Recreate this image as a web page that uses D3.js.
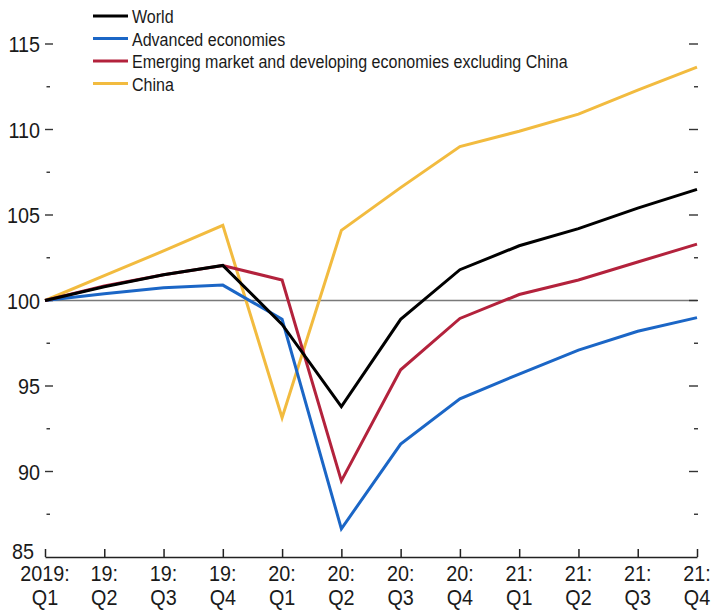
<!DOCTYPE html>
<html>
<head>
<meta charset="utf-8">
<script src="https://cdn.jsdelivr.net/npm/d3@7"></script>
<style>
  body { margin: 0; background: #fff; }
  text { font-family: "Liberation Sans", Arial, sans-serif; fill: #1a1a1a; }
</style>
</head>
<body>
<div id="chart"></div>
<script>
// quarters, 2019Q1 = 100
const quarters = ["2019Q1","2019Q2","2019Q3","2019Q4","2020Q1","2020Q2","2020Q3","2020Q4","2021Q1","2021Q2","2021Q3","2021Q4"];
const tickTop = ["2019:","19:","19:","19:","20:","20:","20:","20:","21:","21:","21:","21:"];
const tickBottom = ["Q1","Q2","Q3","Q4","Q1","Q2","Q3","Q4","Q1","Q2","Q3","Q4"];

const world    = [100, 100.8, 101.5, 102.05, 98.6, 93.8, 98.9, 101.8, 103.2, 104.2, 105.4, 106.5];
const advanced = [100, 100.4, 100.75, 100.9, 98.9, 86.65, 91.6, 94.25, 95.7, 97.1, 98.2, 99.0];
const emerging = [100, 100.85, 101.5, 102.05, 101.2, 89.45, 95.95, 98.95, 100.35, 101.2, 102.25, 103.3];
const china    = [100, 101.45, 102.9, 104.4, 93.15, 104.1, 106.6, 109.0, 109.9, 110.9, 112.3, 113.65];

const seriesNames = ["World", "Advanced economies", "Emerging market and developing economies excluding China", "China"];
const seriesColors = ["#000000", "#1b66c6", "#b3223c", "#f2bb3f"];
const seriesValues = [world, advanced, emerging, china];

const yMajor = [85, 90, 95, 100, 105, 110, 115];
const yMinor = [87.5, 92.5, 97.5, 102.5, 107.5, 112.5];

const width = 711, height = 611;

const svg = d3.select("#chart").append("svg")
  .attr("width", width)
  .attr("height", height);

const x = d3.scalePoint().domain(quarters).range([45, 697]);
const y = d3.scaleLinear().domain([85, 115]).range([557, 44]);

// the source font is a condensed sans, so squeeze text horizontally
function squeezed(sel, sx) {
  return sel.attr("transform", function () {
    const t = d3.select(this);
    return `translate(${t.attr("x")},${t.attr("y")}) scale(${sx},1)`;
  }).attr("x", 0).attr("y", 0);
}

// reference line at 100
svg.append("line")
  .attr("x1", x.range()[0]).attr("x2", x.range()[1])
  .attr("y1", y(100)).attr("y2", y(100))
  .attr("stroke", "#7a7a7a")
  .attr("stroke-width", 1.4);

// left ticks + labels
svg.selectAll(".ymaj").data(yMajor.filter(d => d > 85)).enter().append("line")
  .attr("x1", 45).attr("x2", 53)
  .attr("y1", d => y(d)).attr("y2", d => y(d))
  .attr("stroke", "#333").attr("stroke-width", 1.4);
svg.selectAll(".ymin").data(yMinor).enter().append("line")
  .attr("x1", 46.5).attr("x2", 50)
  .attr("y1", d => y(d)).attr("y2", d => y(d))
  .attr("stroke", "#333").attr("stroke-width", 1.4);
squeezed(svg.selectAll(".ylab").data(yMajor).enter().append("text")
  .attr("x", d => d === 85 ? 34 : 40)
  .attr("y", d => y(d) + (d === 85 ? 2 : 8))
  .attr("text-anchor", "end")
  .style("font-size", "22px")
  .text(d => d), 0.9);

// right ticks
svg.selectAll(".rmaj").data(yMajor.filter(d => d > 85)).enter().append("line")
  .attr("x1", 689).attr("x2", 698)
  .attr("y1", d => y(d)).attr("y2", d => y(d))
  .attr("stroke", "#333").attr("stroke-width", 1.4);
svg.selectAll(".rmin").data(yMinor).enter().append("line")
  .attr("x1", 694).attr("x2", 698)
  .attr("y1", d => y(d)).attr("y2", d => y(d))
  .attr("stroke", "#333").attr("stroke-width", 1.4);

// x axis
const xAxis = svg.append("g")
  .attr("transform", `translate(0, ${y(85)})`)
  .call(d3.axisTop(x).tickSize(8).tickFormat("").tickSizeOuter(0));
xAxis.select(".domain").attr("stroke", "#222").attr("stroke-width", 1.5);
xAxis.selectAll(".tick line").attr("stroke", "#222").attr("stroke-width", 1.5);

squeezed(svg.selectAll(".xlab1").data(quarters).enter().append("text")
  .attr("x", d => x(d))
  .attr("y", 581)
  .attr("text-anchor", "middle")
  .style("font-size", "22px")
  .text((d, i) => tickTop[i]), 0.9);
squeezed(svg.selectAll(".xlab2").data(quarters).enter().append("text")
  .attr("x", d => x(d))
  .attr("y", 605)
  .attr("text-anchor", "middle")
  .style("font-size", "22px")
  .text((d, i) => tickBottom[i]), 0.9);

// lines
const line = d3.line()
  .x((d, i) => x(quarters[i]))
  .y(d => y(d));

// draw order: china, advanced, emerging, world on top
[3, 1, 2, 0].forEach(k => {
  svg.append("path")
    .datum(seriesValues[k])
    .attr("d", line)
    .attr("fill", "none")
    .attr("stroke", seriesColors[k])
    .attr("stroke-width", 3)
    .attr("stroke-linejoin", "miter");
});

// legend
const legend = svg.append("g");
seriesNames.forEach((name, i) => {
  const ly = 16 + i * 22.5;
  legend.append("line")
    .attr("x1", 93).attr("x2", 128)
    .attr("y1", ly).attr("y2", ly)
    .attr("stroke", seriesColors[i])
    .attr("stroke-width", 3);
  squeezed(legend.append("text")
    .attr("x", 132)
    .attr("y", ly + 7)
    .style("font-size", "18.5px")
    .text(name), 0.867);
});
</script>
</body>
</html>
